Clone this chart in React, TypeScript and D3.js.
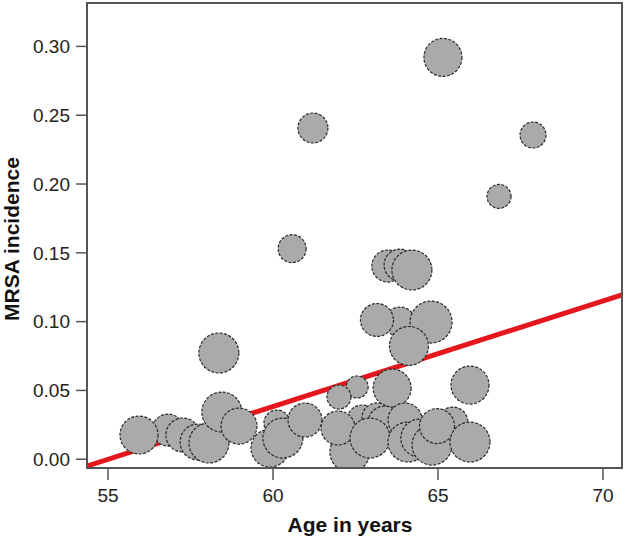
import React from "react";
import * as d3 from "d3";

// Bubble data (drawn back to front)
const ages: number[] = [
  65.15, 61.21, 67.88, 66.85, 60.58, 58.36,
  63.48, 63.85, 64.21,
  63.85, 63.15, 64.79, 64.12,
  63.61, 65.97, 62.55, 62.0,
  56.82, 55.94, 57.27, 57.73, 58.06, 58.45, 58.97,
  60.12, 59.91, 60.3, 60.97,
  62.7, 63.15, 63.39, 64.0, 65.45,
  62.33, 61.97, 62.94, 64.09, 64.45, 64.82, 64.97, 65.97,
];
const incidence: number[] = [
  0.292, 0.2407, 0.2356, 0.191, 0.153, 0.0772,
  0.1404, 0.1411, 0.1375,
  0.0997, 0.1012, 0.0997, 0.0823,
  0.0517, 0.0539, 0.0525, 0.0452,
  0.0212, 0.0176, 0.0176, 0.0125, 0.0118, 0.0343, 0.0241,
  0.0263, 0.0081, 0.0154, 0.0285,
  0.0285, 0.03, 0.0263, 0.0285, 0.027,
  0.0052, 0.0227, 0.0154, 0.0125, 0.0154, 0.0103, 0.0241, 0.0125,
];
const weights: number[] = [
  361, 225, 169, 144, 196, 400,
  256, 256, 400,
  225, 272, 441, 380,
  361, 361, 121, 144,
  256, 361, 289, 324, 400, 400, 324,
  169, 361, 400, 289,
  225, 225, 289, 289, 225,
  400, 289, 400, 400, 361, 400, 306, 400,
];

// Meta-regression line
const fitIntercept = -0.4219;
const fitSlope = 0.00767;

const xTicks: number[] = [55, 60, 65, 70];
const yTicks: number[] = [0, 0.05, 0.1, 0.15, 0.2, 0.25, 0.3];

const W = 626;
const H = 539;
const left = 87;
const right = 622;
const top = 3;
const bottom = 468;

export default function App() {
  const x = d3.scaleLinear().domain([54.364, 70.576]).range([left, right]);
  const y = d3.scaleLinear().domain([-0.00637, 0.33154]).range([bottom, top]);
  const r = d3.scaleSqrt().domain([0, 400]).range([0, 20]);

  const [x0, x1] = x.domain();
  const fitLine = d3
    .line<number>()
    .x((a) => x(a))
    .y((a) => y(fitIntercept + fitSlope * a));

  const font = "'Liberation Sans', Arial, Helvetica, sans-serif";

  return (
    <svg
      width={W}
      height={H}
      style={{ position: "absolute", left: 0, top: 0, background: "#fff" }}
      fontFamily={font}
    >
      <defs>
        <clipPath id="plotClip">
          <rect x={left} y={top} width={right - left} height={bottom - top} />
        </clipPath>
      </defs>
      <g clipPath="url(#plotClip)">
        <path
          d={fitLine([x0, x1]) || ""}
          stroke="#e5161c"
          strokeWidth={5}
          fill="none"
        />
        {ages.map((a, i) => (
          <circle
            key={i}
            cx={x(a)}
            cy={y(incidence[i])}
            r={r(weights[i])}
            fill="#aaaaaa"
            stroke="#2a2a2a"
            strokeWidth={1.2}
            strokeDasharray="3 1.5"
          />
        ))}
      </g>
      <rect
        x={left}
        y={top}
        width={right - left}
        height={bottom - top}
        fill="none"
        stroke="#555"
        strokeWidth={2}
      />
      {xTicks.map((t) => (
        <g key={"x" + t}>
          <line x1={x(t)} x2={x(t)} y1={bottom} y2={bottom + 12} stroke="#555" strokeWidth={1.5} />
          <text x={x(t)} y={502} textAnchor="middle" fontSize={19} fill="#222">
            {t}
          </text>
        </g>
      ))}
      {yTicks.map((t) => (
        <g key={"y" + t}>
          <line x1={left - 11} x2={left} y1={y(t)} y2={y(t)} stroke="#555" strokeWidth={1.5} />
          <text x={70} y={y(t)} dy="0.36em" textAnchor="end" fontSize={19} fill="#222">
            {t.toFixed(2)}
          </text>
        </g>
      ))}
      <text x={350} y={532} textAnchor="middle" fontSize={21} fontWeight="bold" fill="#111">
        Age in years
      </text>
      <text
        transform={`translate(19,239) rotate(-90)`}
        textAnchor="middle"
        fontSize={21}
        fontWeight="bold"
        fill="#111"
      >
        MRSA incidence
      </text>
    </svg>
  );
}
